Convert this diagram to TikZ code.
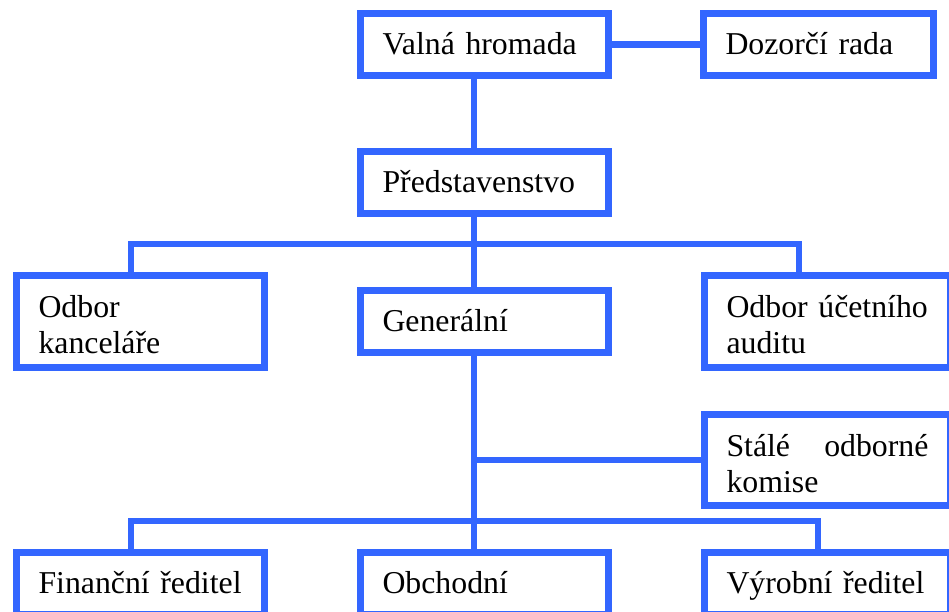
\documentclass[tikz,border=0pt]{standalone}
\usepackage{fontspec}
\setmainfont{Liberation Serif}
\usetikzlibrary{positioning}
\definecolor{orgblue}{HTML}{3366FF}

\begin{document}
\begin{tikzpicture}[x=1pt, y=-1pt,
    box/.style={draw=orgblue, line width=6.8pt, fill=white, inner xsep=22pt, inner ysep=0pt,
        minimum width=248pt, minimum height=62pt, text width=204pt, align=left,
        text height=22pt, text depth=1.5pt, font=\fontsize{31.8pt}{36pt}\selectfont},
    twoline/.style={minimum height=92pt, text height=22pt, text depth=30pt},
    link/.style={draw=orgblue, line width=6.8pt}]
        \useasboundingbox (0,0) rectangle (949,611);
        \clip (0,0) rectangle (949,611);
        \node[box] (valna) at (484.5,44.5) {Valná hromada};
        \node[box, minimum width=230pt, text width=186pt] (dozorci) at (818.5,44.5) {Dozorčí rada};
        \node[box] (predst) at (484.5,182.5) {Představenstvo};
        \node[box, twoline] (kancel) at (140.5,321.5) {Odbor\\kanceláře};
        \node[box] (general) at (484.5,321.5) {Generální};
        \node[box, twoline, minimum width=246pt, text width=202pt] (audit) at (827.5,321.5) {Odbor účetního\\auditu};
        \node[box, twoline, minimum height=91pt, minimum width=246pt, text width=202pt] (komise) at (827.5,460) {Stálé\hfill odborné\\komise};
        \node[box] (financ) at (140.5,583.5) {Finanční ředitel};
        \node[box] (obchod) at (484.5,583.5) {Obchodní};
        \node[box, minimum width=246pt, text width=202pt] (vyrob) at (827.5,583.5) {Výrobní ředitel};
        \coordinate (trunkA) at (474,244);
        \coordinate (trunkC) at (474,460);
        \coordinate (dropK) at (131,244);
        \coordinate (dropA) at (799,244);
        \coordinate (dropF) at (131,521);
        \coordinate (dropV) at (818,521);
        \draw[link] (valna) -- (dozorci);
        \draw[link] (valna.south -| trunkA) -- (predst.north -| trunkA);
        \draw[link] (predst.south -| trunkA) -- (general.north -| trunkA);
        \draw[link] (dropK |- kancel.north) -- (dropK) -- (dropA) -- (dropA |- audit.north);
        \draw[link] (general.south -| trunkA) -- (obchod.north -| trunkA);
        \draw[link] (trunkC) -- (komise.west);
        \draw[link] (dropF |- financ.north) -- (dropF) -- (dropV) -- (dropV |- vyrob.north);
\end{tikzpicture}
\end{document}
